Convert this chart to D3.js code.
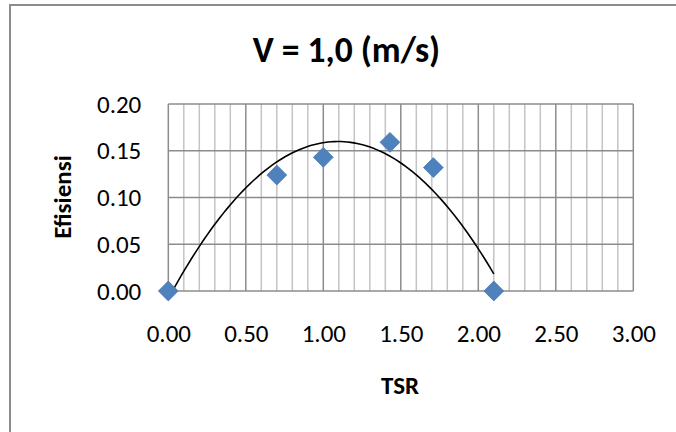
<!DOCTYPE html>
<html>
<head>
<meta charset="utf-8">
<script src="https://cdn.jsdelivr.net/npm/d3@7"></script>
<style>
    body { margin: 0; background: #fff; }
    text { font-family: Calibri, Carlito, Lato, sans-serif; }
</style>
</head>
<body>
<div id="chart"></div>
<script>
const tsr = [0.00, 0.70, 1.00, 1.43, 1.71, 2.10]
const efisiensi = [0.000, 0.124, 0.143, 0.159, 0.132, 0.000]

const xTicks = [0, 0.5, 1, 1.5, 2, 2.5, 3]
const yTicks = [0, 0.05, 0.10, 0.15, 0.20]
const xMinor = d3.range(0, 31).map(i => i / 10)

const title = "V = 1,0 (m/s)"
const xTitle = "TSR"
const yTitle = "Efisiensi"

const width = 676,
    height = 432

const plot = { left: 168.3, right: 633.3, top: 104, bottom: 291 }

const svg = d3.select("#chart")
    .append("svg")
    .attr("width", width)
    .attr("height", height)

svg.append("rect")
    .attr("x", 10)
    .attr("y", 5)
    .attr("width", 720)
    .attr("height", 500)
    .attr("fill", "white")
    .attr("stroke", "#8c8c8c")
    .attr("stroke-width", 2)

const x = d3.scaleLinear()
    .domain([0, 3])
    .range([plot.left, plot.right])

const y = d3.scaleLinear()
    .domain([0, 0.2])
    .range([plot.bottom, plot.top])

const grid = svg.append("g")

grid.selectAll(".minor")
    .data(xMinor.filter(v => !xTicks.some(t => Math.abs(t - v) < 1e-9)))
    .join("line")
    .attr("class", "minor")
    .attr("x1", d => x(d))
    .attr("x2", d => x(d))
    .attr("y1", plot.top)
    .attr("y2", plot.bottom)
    .attr("stroke", "#c4c4c4")
    .attr("stroke-width", 1.5)

grid.selectAll(".hline")
    .data(yTicks)
    .join("line")
    .attr("class", "hline")
    .attr("x1", plot.left)
    .attr("x2", plot.right)
    .attr("y1", d => y(d))
    .attr("y2", d => y(d))
    .attr("stroke", "#8c8c8c")
    .attr("stroke-width", 1.5)

grid.selectAll(".vline")
    .data(xTicks)
    .join("line")
    .attr("class", "vline")
    .attr("x1", d => x(d))
    .attr("x2", d => x(d))
    .attr("y1", plot.top)
    .attr("y2", plot.bottom)
    .attr("stroke", "#8c8c8c")
    .attr("stroke-width", 1.5)

const fmt = d3.format(".2f")

const xAxis = svg.append("g")
    .attr("transform", `translate(0, ${plot.bottom})`)
    .call(d3.axisBottom(x).tickValues(xTicks).tickFormat(fmt).tickSize(0).tickPadding(33))
xAxis.select(".domain").remove()
xAxis.selectAll("text")
    .style("font-size", "25px")
    .attr("fill", "#000")

const yAxis = svg.append("g")
    .attr("transform", `translate(${plot.left}, 0)`)
    .call(d3.axisLeft(y).tickValues(yTicks).tickFormat(fmt).tickSize(0).tickPadding(27))
yAxis.select(".domain").remove()
yAxis.selectAll("text")
    .style("font-size", "25px")
    .attr("fill", "#000")

// 2nd order polynomial trendline, least squares like excel does
function polyfit2(xs, ys) {
    const s = k => d3.sum(xs, v => v ** k)
    const t = k => d3.sum(xs, (v, i) => v ** k * ys[i])
    const A = [[s(0), s(1), s(2)], [s(1), s(2), s(3)], [s(2), s(3), s(4)]]
    const B = [t(0), t(1), t(2)]
    const det = m => m[0][0] * (m[1][1] * m[2][2] - m[1][2] * m[2][1])
        - m[0][1] * (m[1][0] * m[2][2] - m[1][2] * m[2][0])
        + m[0][2] * (m[1][0] * m[2][1] - m[1][1] * m[2][0])
    const D = det(A)
    return [0, 1, 2].map(c => det(A.map((row, r) => row.map((v, j) => j === c ? B[r] : v))) / D)
}

const [a, b, c] = polyfit2(tsr, efisiensi)
const [xmin, xmax] = d3.extent(tsr)
const trend = d3.range(0, 101).map(i => {
    const t = xmin + (xmax - xmin) * i / 100
    return [t, a + b * t + c * t * t]
})

svg.append("path")
    .datum(trend)
    .attr("fill", "none")
    .attr("stroke", "#000")
    .attr("stroke-width", 1.6)
    .attr("d", d3.line().x(d => x(d[0])).y(d => y(d[1])))

svg.append("g")
    .selectAll("path")
    .data(tsr.map((t, i) => [t, efisiensi[i]]))
    .join("path")
    .attr("transform", d => `translate(${x(d[0])}, ${y(d[1])}) rotate(45)`)
    .attr("d", d3.symbol().type(d3.symbolSquare).size(196))
    .attr("fill", "#4f81bd")
    .attr("stroke", "#4a7ab5")
    .attr("stroke-width", 0.8)

svg.append("text")
    .attr("x", 346.5)
    .attr("y", 62)
    .attr("text-anchor", "middle")
    .style("font-size", "35.5px")
    .style("font-weight", "bold")
    .text(title)

svg.append("text")
    .attr("x", 400)
    .attr("y", 394)
    .attr("text-anchor", "middle")
    .style("font-size", "25px")
    .style("font-weight", "bold")
    .text(xTitle)

svg.append("text")
    .attr("transform", "translate(71, 197) rotate(-90)")
    .attr("text-anchor", "middle")
    .style("font-size", "25px")
    .style("font-weight", "bold")
    .text(yTitle)
</script>
</body>
</html>
